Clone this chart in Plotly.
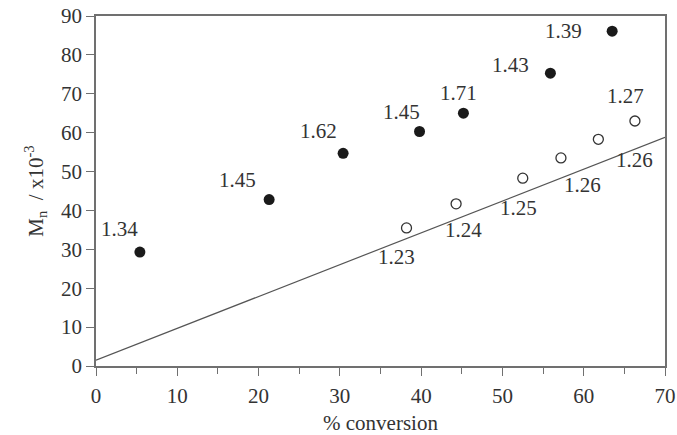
import plotly.graph_objects as go

# Data
filled_x = [5.4, 21.3, 30.4, 39.8, 45.2, 55.9, 63.5]
filled_y = [29.3, 42.8, 54.7, 60.3, 65.0, 75.3, 86.1]
filled_pdi = ["1.34", "1.45", "1.62", "1.45", "1.71", "1.43", "1.39"]

open_x = [38.2, 44.3, 52.5, 57.2, 61.8, 66.3]
open_y = [35.5, 41.7, 48.3, 53.5, 58.3, 63.0]
open_pdi = ["1.23", "1.24", "1.25", "1.26", "1.26", "1.27"]

line_x = [0, 70]
line_y = [1.5, 58.8]

x_ticks = [0, 10, 20, 30, 40, 50, 60, 70]
y_ticks = [0, 10, 20, 30, 40, 50, 60, 70, 80, 90]

# label pixel offsets (style)
filled_off = [(-20, 23), (-32, 20), (-25, 22), (-18, 20), (-5, 20), (-40, 8), (-49, 0)]
open_off = [(-10, -29), (7, -26), (-4, -30), (22, -27), (36, -21), (-9, 25)]

FONT = "Liberation Serif"
TXT = "#333333"
AX = "#707070"
FS = 21

fig = go.Figure()
fig.add_trace(go.Scatter(x=line_x, y=line_y, mode="lines",
                         line=dict(color="#555555", width=1.2), hoverinfo="skip"))
fig.add_trace(go.Scatter(x=filled_x, y=filled_y, mode="markers",
                         marker=dict(size=11, color="#1a1a1a")))
fig.add_trace(go.Scatter(x=open_x, y=open_y, mode="markers",
                         marker=dict(size=10, color="white",
                                     line=dict(color="#333333", width=1.3))))

annotations = []
for x, y, t, (dx, dy) in zip(filled_x, filled_y, filled_pdi, filled_off):
    annotations.append(dict(x=x, y=y, text=t, showarrow=False, xshift=dx, yshift=dy,
                            font=dict(family=FONT, size=FS, color=TXT)))
for x, y, t, (dx, dy) in zip(open_x, open_y, open_pdi, open_off):
    annotations.append(dict(x=x, y=y, text=t, showarrow=False, xshift=dx, yshift=dy,
                            font=dict(family=FONT, size=FS, color=TXT)))

fig.update_layout(
    width=677, height=435,
    margin=dict(l=96, r=12, t=16, b=69),
    paper_bgcolor="white", plot_bgcolor="white",
    showlegend=False,
    font=dict(family=FONT, size=FS, color=TXT),
    annotations=annotations,
    xaxis=dict(range=[0, 70], tickvals=x_ticks, ticks="outside", ticklen=8,
               tickcolor=AX, linecolor=AX, linewidth=1.5, mirror=True,
               showgrid=False, zeroline=False, automargin=False,
               ticklabelstandoff=2,
               tickfont=dict(family=FONT, size=FS, color=TXT),
               minor=dict(tickvals=[5, 15, 25, 35, 45, 55, 65], ticks="outside",
                          ticklen=6, tickcolor=AX),
               title=dict(text="% conversion", font=dict(family=FONT, size=FS, color=TXT),
                          standoff=8)),
    yaxis=dict(range=[0, 90], tickvals=y_ticks, ticks="outside", ticklen=8,
               tickcolor=AX, linecolor=AX, linewidth=1.5, mirror=True,
               showgrid=False, zeroline=False, automargin=False,
               tickfont=dict(family=FONT, size=FS, color=TXT),
               title=dict(text="M<sub>n</sub>  / x10<sup>-3</sup>",
                          font=dict(family=FONT, size=FS, color=TXT), standoff=12)),
)

fig.write_html("out.html")
